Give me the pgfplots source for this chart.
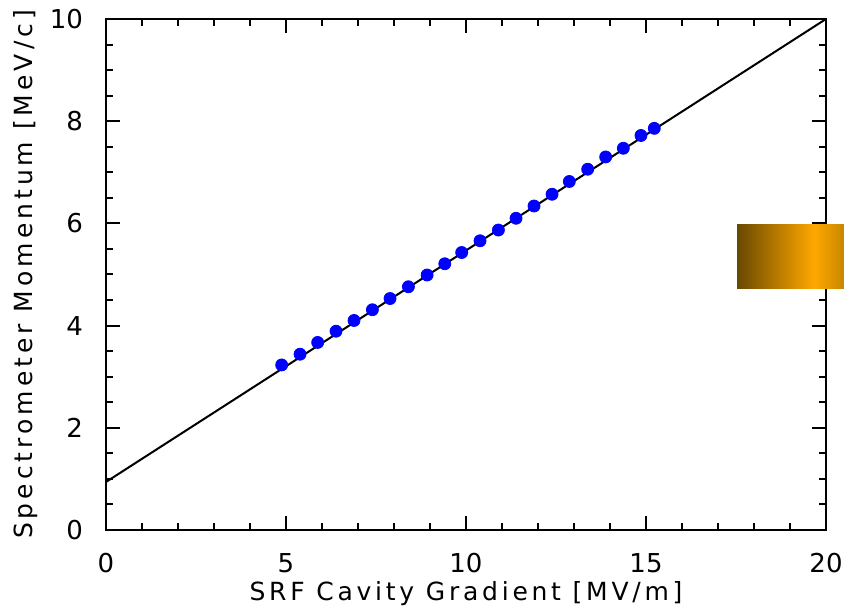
\documentclass[border=0pt]{standalone}
\usepackage{fontspec}
\setmainfont{DejaVu Sans}
\newfontfamily\labelfont[LetterSpace=15]{DejaVu Sans}
\newfontfamily\ylabelfont[LetterSpace=16]{DejaVu Sans}
\usepackage{pgfplots}
\pgfplotsset{compat=1.18}

\definecolor{barL}{RGB}{105,72,0}
\definecolor{barM}{RGB}{255,168,0}
\definecolor{barR}{RGB}{200,134,0}
\pgfdeclarehorizontalshading{barshade}{100bp}{color(0bp)=(barL); color(25bp)=(barL); color(61bp)=(barM); color(75bp)=(barR); color(100bp)=(barR)}

\begin{document}
\begin{tikzpicture}
\path[use as bounding box] (-53pt,-41.5pt) rectangle (369pt,265pt);
\begin{axis}[
  scale only axis,
  width=360pt, height=255.5pt,
  xmin=0, xmax=20, ymin=0, ymax=10,
  xtick={0,5,10,15,20}, ytick={0,2,4,6,8,10},
  minor x tick num=4, minor y tick num=3,
  tick align=inside,
  major tick length=7pt, minor tick length=3.5pt,
  axis line style={line width=1pt},
  every tick/.style={black, line width=1pt},
  tick label style={font=\fontsize{13}{15}\selectfont},
  /pgf/number format/assume math mode=true,
  xticklabel style={yshift=-8pt},
  yticklabel style={xshift=-8pt},
  xlabel={\labelfont SRF Cavity Gradient [MV/m]},
  ylabel={\ylabelfont Spectrometer Momentum [MeV/c]},
  label style={font=\fontsize{12.5}{14}\selectfont},
  xlabel style={at={(axis description cs:0.5,-0.125)}, anchor=center},
  ylabel style={at={(axis description cs:-0.111,0.5)}, anchor=center},
  clip=false,
]
\addplot[black, line width=1pt] coordinates {(0,0.94) (20,10)};
\addplot[only marks, mark=*, mark size=3pt, color=blue, fill=blue] coordinates {
  (4.88,3.23) (5.39,3.44) (5.88,3.67) (6.39,3.89) (6.89,4.10) (7.40,4.31)
  (7.89,4.53) (8.40,4.76) (8.92,4.99) (9.41,5.21) (9.88,5.43) (10.39,5.66)
  (10.90,5.87) (11.39,6.10) (11.89,6.34) (12.39,6.57) (12.87,6.82) (13.38,7.06)
  (13.88,7.30) (14.37,7.47) (14.86,7.72) (15.23,7.86)
};
\coordinate (r1) at (axis cs:17.53,4.72);
\coordinate (r2) at (axis cs:20.5,5.97);
\end{axis}
\fill[shading=barshade] (r1) rectangle (r2);
\end{tikzpicture}
\end{document}
